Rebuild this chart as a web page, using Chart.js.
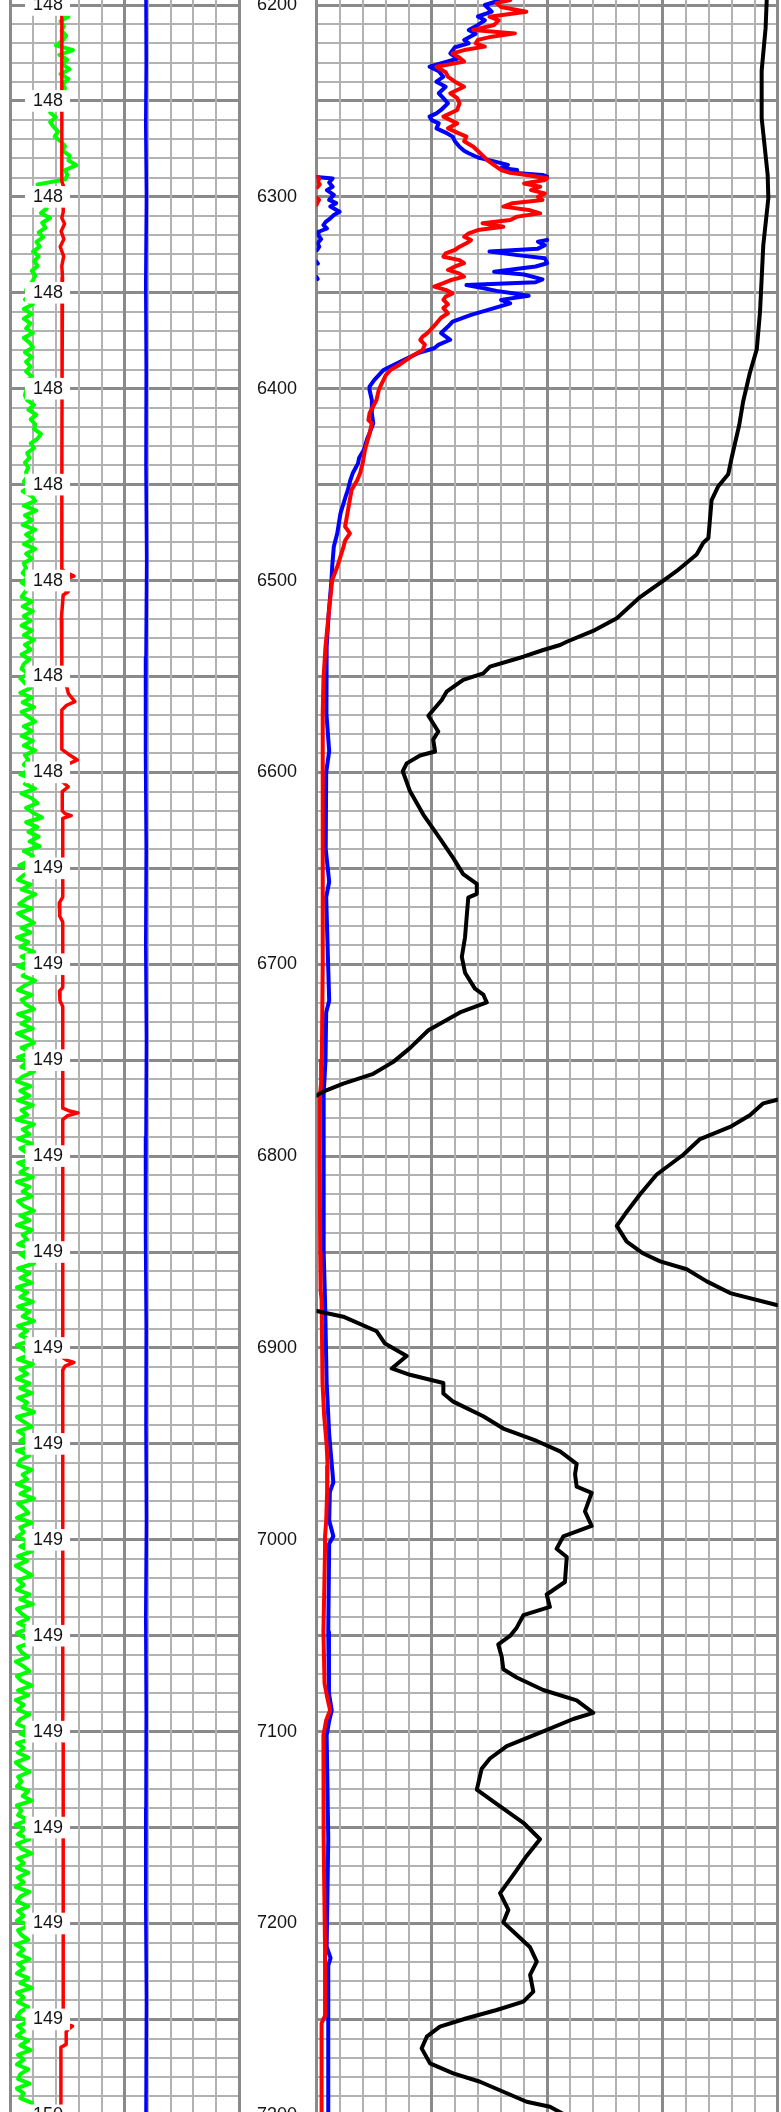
<!DOCTYPE html>
<html>
<head>
<meta charset="utf-8">
<title>Well log 6200–7300 ft</title>
<script src="https://cdn.jsdelivr.net/npm/chart.js@4/dist/chart.umd.min.js"></script>
<style>
  html, body { margin: 0; padding: 0; background: #ffffff; overflow: hidden; }
  #log { position: relative; width: 781px; height: 2112px; overflow: hidden; background: #ffffff; }
  #trackLeft { position: absolute; left: 0; top: -100px; }
  #trackMain { position: absolute; left: 240px; top: -100px; }
</style>
</head>
<body>
<div id="log">
  <canvas id="trackLeft" width="250" height="2300"></canvas>
  <canvas id="trackMain" width="541" height="2300"></canvas>
</div>
<script>
// ---------------- depth window (ft) ----------------
const DEPTH_TOP = 6180;
const DEPTH_BOTTOM = 7320;

// ---------------- depth annotations ----------------
const depthLabelValues = [6200, 6300, 6400, 6500, 6600, 6700, 6800, 6900, 7000, 7100, 7200, 7300];
const depthLabels = ['6200', '6300', '6400', '6500', '6600', '6700', '6800', '6900', '7000', '7100', '7200', '7300'];

const timeLabelDepths = [6200, 6250, 6300, 6350, 6400, 6450, 6500, 6550, 6600, 6650, 6700, 6750,
                         6800, 6850, 6900, 6950, 7000, 7050, 7100, 7150, 7200, 7250, 7300];
const timeLabels = ['148', '148', '148', '148', '148', '148', '148', '148', '148',
                    '149', '149', '149', '149', '149', '149', '149', '149', '149', '149', '149', '149', '149',
                    '150'];

// ---------------- left track (0–100) ----------------
// green curve, sampled every 2.5 ft starting at 6196 ft
const GREEN_TOP = 6196;
const GREEN_STEP = 2.5;
const greenValues = [
  23, 22, 24.5, 21, 25.5, 22, 23.5, 22.5, 24.5, 23,          // 6196
  20, 27.5, 21.5, 25, 23, 26, 22, 25.5, 23, 24,              // 6221
  22.5, 23, 22, 18, 17.5, 20, 17.5, 19, 21, 19.5,            // 6246
  22, 24, 23, 26, 25.5, 29, 24, 25, 24, 12,                  // 6271
  14, 13, 14, 15, 16, 13.5, 17.5, 14, 15.5, 12.5,            // 6296
  14.5, 11.5, 13, 10, 12.5, 10.5, 12, 9.5, 11, 10,           // 6321
  8.5, 7, 9.5, 6.5, 10, 6, 9.5, 6, 9, 7,                     // 6346
  10, 6, 8.5, 10, 6.5, 9.5, 7, 9, 7, 9.5,                    // 6371
  7.5, 8, 7, 6.5, 7.5, 10.5, 8, 11.5, 9, 11,                 // 6396
  10.5, 13.5, 12, 9, 10.5, 7.5, 8.5, 6.5, 8, 7,              // 6421
  7.5, 6, 9, 5.5, 9.5, 11, 6, 11.5, 6.5, 9.5,                // 6446
  5.5, 11, 7, 10, 6, 11, 7, 9.5, 6, 7,                       // 6471
  5.5, 8, 5, 8.5, 6.5, 5, 9.5, 5.5, 10, 6,                   // 6496
  9, 5, 9.5, 6, 10.5, 6.5, 9, 5, 8.5, 6,                     // 6521
  5, 8, 4.5, 6.5, 9, 4.5, 9.5, 5.5, 10.5, 5,                 // 6546
  8, 11, 6, 9.5, 5, 10, 6, 11, 6.5, 8,                       // 6571
  6, 9, 4.5, 10, 6.5, 11, 5, 9.5, 12, 7,                     // 6596
  10, 14, 7, 12, 8, 12.5, 8.5, 13, 6, 10,                    // 6621
  8.5, 4, 10.5, 6, 3.5, 9, 5, 11, 7, 4,                      // 6646
  9.5, 3.5, 7, 10.5, 5, 9, 3, 8, 4.5, 10.5,                  // 6671
  5, 8.5, 3.5, 9.5, 5.5, 11, 6.5, 3.5, 9.5, 5,               // 6696
  7, 10.5, 3.5, 8.5, 5, 10, 3, 7.5, 10.5, 5,                 // 6721
  9, 3.5, 7.5, 5, 10.5, 5.5, 3, 9, 4.5, 8.5,                 // 6746
  3.5, 10, 5, 7.5, 3, 10.5, 5.5, 8.5, 3.5, 9.5,              // 6771
  4.5, 7.5, 11, 3.5, 7.5, 4.5, 10, 3, 8.5, 5.5,              // 6796
  9.5, 3.5, 6, 10.5, 4.5, 8.5, 3, 9.5, 5.5, 7.5,             // 6821
  3.5, 10, 4.5, 7.5, 10.5, 3.5, 8.5, 4.5, 9.5, 3,            // 6846
  7.5, 4.5, 10, 3.5, 8.5, 5.5, 10.5, 3.5, 7.5, 4.5,          // 6871
  9.5, 3, 6, 8.5, 3.5, 10, 4.5, 7.5, 3, 8.5,                 // 6896
  4.5, 9.5, 3.5, 7.5, 5.5, 10.5, 3, 6, 9.5, 3.5,             // 6921
  7.5, 4.5, 10, 3, 8.5, 4.5, 3.5, 9.5, 5.5, 7.5,             // 6946
  3, 8.5, 4.5, 10.5, 3.5, 6, 8, 3, 9.5, 4.5,                 // 6971
  6, 3, 8.5, 4.5, 9.5, 3.5, 7.5, 2.5, 6, 9.5,                // 6996
  3.5, 6, 3, 8.5, 4.5, 10, 3, 5, 8, 3.5,                     // 7021
  8.5, 3, 6, 9.5, 3.5, 5, 8, 2.5, 6, 8.5,                    // 7046
  3, 5, 9.5, 3.5, 8, 2.5, 6, 3.5, 8.5, 4.5,                  // 7071
  3, 8, 4.5, 10, 3, 6, 3.5, 8, 2.5, 5,                       // 7096
  8.5, 3.5, 5, 3, 8, 5.5, 9.5, 3, 5, 3.5,                    // 7121
  8, 2.5, 6, 3.5, 8.5, 3, 5, 9.5, 3.5, 6,                    // 7146
  3, 8, 3.5, 6, 2.5, 8.5, 4.5, 3, 8, 3.5,                    // 7171
  6, 3, 9, 3.5, 5, 8, 2.5, 6, 3.5, 8.5,                      // 7196
  3.5, 6, 3, 8, 4.5, 9.5, 3, 6, 3.5, 8,                      // 7221
  4.5, 3, 8.5, 3.5, 6, 3, 8, 4.5, 9, 3.5,                    // 7246
  6, 3, 8, 4.5, 3.5, 8.5, 3, 6, 4.5, 9.5,                    // 7271
  10, 8, 6, 7                                                // 7296
];

const leftRedDepth = [6196, 6292, 6294, 6308, 6311, 6314, 6318, 6322, 6326, 6331, 6336, 6342, 6400, 6450,
  6494, 6495.5, 6497.7, 6499, 6501, 6504.5, 6505.8, 6507.5, 6520, 6545, 6553, 6555.3, 6559, 6563.1, 6565,
  6567.5, 6588, 6590.5, 6593.5, 6596, 6598.5, 6605, 6607.5, 6610, 6620, 6621.5, 6622.5, 6624, 6665, 6668,
  6675, 6678, 6712, 6714, 6719, 6722, 6775, 6776.5, 6777.5, 6779, 6781, 6905, 6906.5, 6907.5, 6909.5,
  6911.5, 7100, 7102, 7106, 7250, 7252, 7253.5, 7255, 7256.5, 7263, 7264.5, 7300];
const leftRedValues = [22.6, 22.6, 23.2, 23.2, 22.6, 23.8, 22.3, 23.5, 21.9, 23.4, 22.6, 22.9, 22.7, 22.6,
  22.6, 24, 27.9, 24.8, 23, 23.5, 25.4, 23.2, 22.4, 22.6, 22.8, 24.7, 25.5, 28.3, 24.7,
  22.6, 22.6, 25.5, 29.4, 24.7, 22.8, 23, 25.4, 22.8, 22.8, 24, 26.7, 23, 23, 21.5,
  21.7, 23, 23, 21.6, 21.8, 23, 23, 26, 29.7, 25, 23, 23, 25, 27.9, 24,
  23, 23, 22, 23.2, 23.2, 23.2, 27.3, 25.5, 24.5, 24.5, 22.2, 22.2];

const leftBlueDepth = [6196, 6230, 6262, 6300, 6345, 6390, 6440, 6490, 6540, 6590, 6640, 6690,
  6740, 6790, 6840, 6890, 6940, 6990, 7040, 7090, 7140, 7190, 7240, 7300];
const leftBlueValues = [59.3, 59.4, 59.2, 59.5, 59.2, 59.4, 59.3, 59.6, 59.3, 59.1, 59.4, 59.2,
  59.5, 59.3, 59.1, 59.4, 59.3, 59.5, 59.2, 59.4, 59.3, 59.2, 59.5, 59.3];

// ---------------- main track (0–200, red/blue use the left half) ----------------
const redDepth = [6195, 6197.4, 6199, 6201, 6203.5, 6206.1, 6208, 6210.4, 6213, 6214.8, 6216.5, 6218.2,
  6220, 6221.7, 6223.5, 6225.2, 6227.5, 6229.5, 6232.2, 6235, 6237.4, 6240, 6242.6, 6246, 6248.5, 6251.2,
  6254.7, 6258.2, 6261.7, 6264.3, 6266.5, 6268.6, 6271, 6273.9, 6277.3, 6280.8, 6283.4, 6286, 6287.5,
  6288.6, 6290.3, 6291.2, 6293, 6294.7, 6296.5, 6298.2, 6300, 6301.6, 6303.3, 6305.1, 6306.8, 6308.6,
  6310.3, 6312.1, 6313.8, 6315.6, 6317.3, 6319, 6320.8, 6322.5, 6324.2, 6326, 6327.7, 6329.5, 6331.2,
  6333, 6334.6, 6336.3, 6338.1, 6340, 6341.6, 6343.5, 6345, 6346.8, 6348.5, 6350.3, 6352, 6353.7, 6356,
  6358, 6360.7, 6363, 6365.9, 6368.5, 6371.1, 6372.8, 6374.6, 6377, 6379.8, 6382.5, 6385, 6387.5, 6390.3,
  6393, 6395.5, 6398, 6400.7, 6405.9, 6412.8, 6416.3, 6418, 6423.3, 6432, 6438.9, 6444.1, 6447.6, 6452.8,
  6456.3, 6465, 6471.9, 6475.4, 6478.9, 6482.4, 6492.8, 6499.7, 6517.1, 6534.5, 6551.8, 6569.2, 6600,
  6650, 6700, 6750, 6762, 6768, 6800, 6850, 6870, 6875, 6918, 6935, 6950.6, 6961.4, 6975, 6990, 6998.2,
  7004.7, 7030, 7047.9, 7075, 7083, 7088.9, 7094, 7101.9, 7130, 7155.9, 7185, 7212.1, 7248, 7252, 7300];
const redValues = [82, 84, 78, 80, 91, 75, 79, 77, 68, 86, 76, 70,
  69, 73, 64, 59, 62, 64, 52, 56, 57, 60, 64, 58, 61, 62,
  61, 55, 61, 57, 61, 65, 64, 68, 71, 74, 77, 80, 84,
  91, 100, 99, 90, 97, 93, 99, 96, 98, 85, 81, 92, 97,
  87, 84, 72, 81, 70, 66, 64, 67, 65, 62, 60, 56, 55,
  62, 64, 60, 57, 62, 64, 58, 55, 51, 56, 59, 56, 55, 57,
  55, 57, 54, 52, 50, 48, 46, 45, 47, 46, 42, 39, 36, 32,
  30, 29, 28, 27, 26, 23, 22.5, 24, 23, 21, 20, 18.9, 17.7, 15.2,
  14.7, 13.4, 12.4, 14.5, 12.5, 11.7, 9, 6.8, 5.3, 3.9, 3, 2.7, 2.8,
  2.6, 2.7, 2.3, 2.0, 1.5, 1.4, 1.6, 1.8, 2.2, 2.6, 3.3, 4.4, 4.8, 4.6, 4.2, 3.7,
  3.7, 3.3, 3.0, 3.5, 4.8, 5.9, 4.2, 3.0, 3.2, 3.0, 3.4, 3.7, 3.7, 2.2, 2.2];

// red readings that run past the right edge of the half track and re-enter at the left
const redWrapDepth = [6289.6, 6290.5, 6292, 6293.5, 6295, 6296, 6300.4, 6301.5, 6302.8, 6304.2];
const redWrapValues = [0, 1.2, 0.6, 1.4, 0.4, null, 0, 1.1, 0.5, 0];

const blueDepth = [6195, 6197.4, 6200, 6203.5, 6206, 6208, 6210.4, 6213, 6215, 6218.2, 6220, 6222,
  6225.2, 6228, 6230, 6232.2, 6234.5, 6237.4, 6240, 6242.6, 6246, 6248.5, 6251.2, 6254.7, 6256.5, 6258.2,
  6260, 6261.7, 6264.3, 6266.5, 6268.6, 6271, 6273.9, 6276, 6277.3, 6279.5, 6281.5, 6283.4, 6285, 6286,
  6287.5, 6288.6, 6289.5, 6290, 6322.5, 6323.4, 6325.2, 6327, 6328.5, 6330.5, 6332, 6334.6, 6336.3, 6339,
  6340.5, 6343, 6344.5, 6346, 6347.5, 6349, 6350.3, 6351.5, 6353.7, 6355.5, 6358, 6361.5, 6365, 6367.6,
  6371, 6374.5, 6377, 6378.9, 6381.5, 6385, 6390.3, 6395.5, 6398.9, 6400.7, 6405.9, 6412.8, 6418, 6423.3,
  6426, 6432, 6436, 6438.9, 6444.1, 6447.6, 6452.8, 6456.3, 6465, 6475.4, 6482.4, 6492.8, 6499.7, 6517.1,
  6534.5, 6551.8, 6569.2, 6589, 6600, 6640, 6657, 6665, 6719, 6725, 6750, 6768, 6800, 6850, 6875, 6918,
  6945, 6955, 6970.1, 6975, 6990, 6998.2, 7002, 7047.9, 7080, 7088.9, 7095, 7101.9, 7155.9, 7212.1, 7218,
  7222, 7300];
const blueValues = [78, 80, 73, 76, 70, 73, 70, 66, 69, 64, 66, 60,
  58, 61, 55, 49, 53, 55, 52, 56, 53, 55, 57, 54, 52, 49,
  50, 53, 52, 56, 59, 60, 62, 64, 66, 70, 77, 83, 80, 87,
  85, 98, 100, null, 100, 96, 99, 96, 75, 88, 99, 100, 95, 77,
  90, 98, 95, 65, 72, 78, 85, 92, 80, 84, 77, 67, 59, 57,
  54, 58, 53, 51, 44, 38, 29, 25, 23, 23, 24, 24, 24.6, 23,
  22, 20.5, 18.5, 18, 15.7, 14.7, 13.6, 12.6, 10.4, 9, 7.5, 6.8, 6.5, 5.3,
  4.4, 4.2, 4.4, 5.5, 4.2, 4.0, 5.5, 4.2, 5.5, 4.2, 3.9, 3.1, 3.0, 3.2, 3.7, 4.4,
  5.5, 6.2, 7.3, 5.8, 5.5, 7.3, 5.5, 5.1, 5.4, 6.6, 5.4, 4.4, 5.1, 4.4, 6.1,
  5.1, 5.1];

const blueWrapDepth = [6289.6, 6290.4, 6292.5, 6294.7, 6296.5, 6299, 6301.6, 6303.3, 6305, 6307.8, 6309.5,
  6311.2, 6313, 6314.7, 6316.5, 6318.2, 6320, 6322, 6324.2, 6326, 6327.7, 6328.5, 6333.8, 6334.8, 6335.5,
  6341.8, 6342.8];
const blueWrapValues = [0, 7, 5.5, 7, 4.5, 7.5, 5.5, 8.5, 6, 10, 7.5,
  6, 4, 3, 4.5, 1, 0.8, 2, 0.5, 1.2, 0.3, null, 0, 0.6, null,
  0, 0.5];

// black curve over the full track width; the null entries mark where it wraps around
const blackDepth = [6190, 6197.4, 6212.2, 6234.3, 6258.9, 6288.4, 6300.7, 6325.3, 6359.8, 6379.4, 6391.7,
  6406.5, 6418.8, 6436, 6444.6, 6450.8, 6458.1, 6477.8, 6480.3, 6486.4, 6495, 6500, 6508.6, 6519.6, 6525.8,
  6531.9, 6533.6, 6536.2, 6539.7, 6544.9, 6548.4, 6551.8, 6557.9, 6562.3, 6570.5, 6578.7, 6582.9, 6589.1,
  6591.2, 6595.3, 6599.4, 6609.7, 6622, 6634.4, 6644.7, 6653, 6658.1, 6663.3, 6665.3, 6685.9, 6696.2,
  6704.4, 6712.7, 6715.8, 6719.9, 6725.1, 6734.4, 6743.7, 6750.9, 6757.1, 6762.2, 6766.4, 6768.4, 6769.4,
  6770.5, 6772.5, 6778.7, 6784.8, 6791.1, 6799.3, 6809.6, 6819.9, 6830.2, 6836.4, 6844.6, 6850.8, 6854.9,
  6859, 6865.3, 6871.4, 6877.6, 6879, 6880.7, 6883.7, 6891.3, 6897.7, 6904.2, 6910.7, 6914, 6918.3, 6923.7,
  6928, 6935.6, 6942, 6948.5, 6953.9, 6960.4, 6965.8, 6972.3, 6975.5, 6985.2, 6992.8, 6998.2, 7004.7, 7009,
  7022, 7028.5, 7035, 7039.3, 7045.8, 7050.1, 7054.5, 7061, 7067.5, 7071.8, 7078.3, 7083.7, 7090.2, 7093.4,
  7099.9, 7107.5, 7114, 7119.4, 7130.2, 7137.7, 7147.5, 7156.1, 7164.8, 7173.4, 7184.2, 7192.9, 7199.4,
  7205.9, 7212.4, 7219.9, 7226.8, 7235.5, 7240.7, 7245.1, 7249.4, 7253.8, 7259, 7265.1, 7272.9, 7278.1,
  7282.5, 7287.7, 7292.9, 7295.5, 7300];
const blackValues = [195.5, 195.2, 194.7, 193, 193, 195.6, 195.9, 193.7, 192.3, 190.9, 187.9,
  185, 183.3, 180, 178.5, 174.2, 171.3, 169.9, 167.7, 164.8, 156.2, 150.4, 140.3, 130.2, 120.7,
  108.5, 105.6, 98.3, 89.7, 75.2, 72.3, 63.6, 56.4, 54.3, 48.5, 52.8, 50.6, 51.4,
  44.9, 39.1, 37.4, 40.5, 46.3, 53.5, 59.3, 63.6, 69.5, 69.5, 65.8, 64.4, 63,
  64.4, 68.7, 72.3, 73.8, 62.2, 48.5, 40.5, 33.3, 24.6, 11.6, 2.9, 0.1, null,
  200.2, 193.7, 187.9, 179.3, 166.3, 159, 147.5, 140.3, 133.8, 130.2, 134.5, 141.7, 149,
  160.5, 169.2, 179.3, 199.5, null, 0.1, 11.6, 26.1, 29.7, 39.1, 32.6, 40.5, 55, 55,
  59.3, 72.3, 81, 95.5, 105.6, 112.8, 112.1, 112.8, 119.3, 116.4, 119.3, 107, 104.1, 108.5,
  107.7, 99.8, 101.2, 89.7, 86.8, 83.9, 78.8, 80.3, 81, 86.8, 98.3, 112.8, 120, 111.3,
  98.3, 82.5, 75.2, 71.6, 69.5, 78.1, 89.7, 96.9, 91.1, 86.1, 79.6, 83.2, 81,
  86.8, 92.6, 95.5, 92.6, 94, 89.7, 78.1, 65.1, 53.5, 47.8, 45.6, 49.2, 59.3,
  70.9, 81, 91.1, 101.2, 108];

// ---------------- page geometry ----------------
const PX_PER_FT = 1.9185;      // vertical scale of the log
const Y_AT_6200 = 5;           // page row of the 6200 ft line
const CANVAS_TOP = -100;
const CANVAS_H = 2300;
const PAD_TOP = Y_AT_6200 + (DEPTH_TOP - 6200) * PX_PER_FT - CANVAS_TOP;
const PAD_BOTTOM = CANVAS_H - PAD_TOP - (DEPTH_BOTTOM - DEPTH_TOP) * PX_PER_FT;

// ---------------- styling ----------------
Chart.defaults.font.family = '"Liberation Sans", Arial, Helvetica, sans-serif';
const GRID_MINOR = '#b2b2b2';
const GRID_MAJOR = '#8a8a8a';
const LABEL_COLOR = '#141414';

const isMajor = ctx => !!ctx.tick && Math.round(ctx.tick.value) % 50 === 0;
const gridLines = {
  drawTicks: false,
  color: ctx => (isMajor(ctx) ? GRID_MAJOR : GRID_MINOR),
  lineWidth: ctx => (isMajor(ctx) ? 3 : 2)
};

const curve = (depths, values) => depths.map((d, i) => ({ x: values[i], y: d }));

function logLine(label, data, color, width) {
  return {
    label, data, showLine: true, spanGaps: false,
    borderColor: color, backgroundColor: color, borderWidth: width,
    borderJoinStyle: 'round', borderCapStyle: 'round',
    pointRadius: 0, pointHoverRadius: 0, tension: 0
  };
}

const depthScale = {
  type: 'linear', position: 'left', reverse: true,
  min: DEPTH_TOP, max: DEPTH_BOTTOM,
  border: { display: false }
};

const baseOptions = {
  responsive: false,
  animation: false,
  events: [],
  plugins: { legend: { display: false }, tooltip: { enabled: false } }
};

// ---------------- left track ----------------
new Chart(document.getElementById('trackLeft'), {
  type: 'scatter',
  data: {
    datasets: [
      logLine('Red', curve(leftRedDepth, leftRedValues), '#ff0000', 3.5),
      logLine('Blue', curve(leftBlueDepth, leftBlueValues), '#0000ff', 3.5),
      logLine('Green', greenValues.map((v, i) => ({ x: v, y: GREEN_TOP + i * GREEN_STEP })), '#00ff00', 4)
    ]
  },
  options: {
    ...baseOptions,
    layout: { autoPadding: false, padding: { left: 10, right: 10.7, top: PAD_TOP, bottom: PAD_BOTTOM } },
    scales: {
      y: { ...depthScale, grid: gridLines, ticks: { display: false, stepSize: 10 } },
      yl: {
        ...depthScale,
        grid: { display: false, drawTicks: false },
        afterBuildTicks: s => { s.ticks = timeLabelDepths.map(v => ({ value: v })); },
        afterFit: s => { s.width = 0; },
        ticks: {
          mirror: true, padding: 23, z: 1, autoSkip: false,
          font: { size: 18 }, color: LABEL_COLOR,
          showLabelBackdrop: true, backdropColor: '#ffffff',
          backdropPadding: { left: 8, right: 7, top: 0, bottom: 0 },
          callback: v => { const i = timeLabelDepths.indexOf(v); return i >= 0 ? timeLabels[i] : ''; }
        }
      },
      x: {
        type: 'linear', position: 'bottom', min: 0, max: 100,
        border: { display: false }, grid: gridLines,
        ticks: { display: false, stepSize: 10 }
      }
    }
  }
});

// ---------------- main track ----------------
new Chart(document.getElementById('trackMain'), {
  type: 'scatter',
  data: {
    datasets: [
      logLine('Black', curve(blackDepth, blackValues), '#000000', 4),
      logLine('Red', curve(redDepth, redValues), '#ff0000', 4),
      logLine('Red (wrapped)', curve(redWrapDepth, redWrapValues), '#ff0000', 4),
      logLine('Blue', curve(blueDepth, blueValues), '#0000ff', 4),
      logLine('Blue (wrapped)', curve(blueWrapDepth, blueWrapValues), '#0000ff', 4)
    ]
  },
  options: {
    ...baseOptions,
    layout: { autoPadding: false, padding: { left: 0, right: 3.2, top: PAD_TOP, bottom: PAD_BOTTOM } },
    scales: {
      y: {
        ...depthScale,
        grid: gridLines,
        afterFit: s => { s.width = 76.5; },
        ticks: {
          stepSize: 10, autoSkip: false, padding: 19.5,
          font: { size: 18 }, color: LABEL_COLOR,
          callback: v => { const i = depthLabelValues.indexOf(v); return i >= 0 ? depthLabels[i] : ''; }
        }
      },
      x: {
        type: 'linear', position: 'bottom', min: 0, max: 200,
        border: { display: false }, grid: gridLines,
        ticks: { display: false, stepSize: 10 }
      }
    }
  }
});
</script>
</body>
</html>
